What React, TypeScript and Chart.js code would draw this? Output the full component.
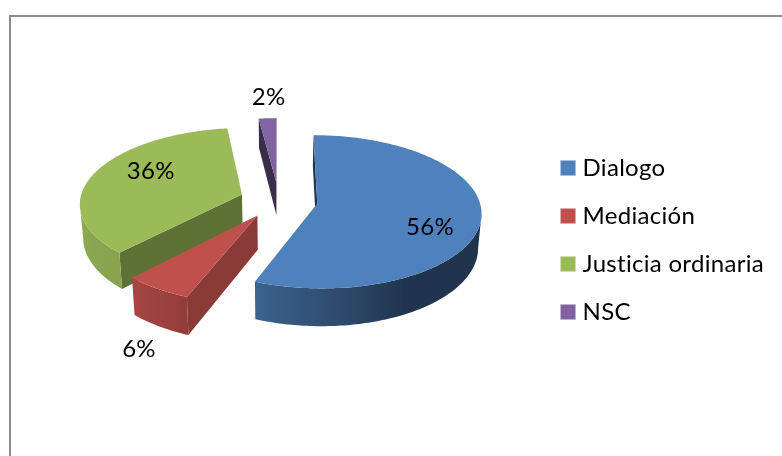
import React, { useEffect, useRef } from "react";
import { Chart, registerables } from "chart.js";

Chart.register(...registerables);

const categories = ["Dialogo", "Mediación", "Justicia ordinaria", "NSC"];
const shares = [56, 6, 36, 2];
const sliceColors = ["#4f81bd", "#c0504d", "#9bbb59", "#8064a2"];

// Look of the 3D drawing
const FONT = "Lato";
const FONT_SIZE = 24;
const EXPLODE = 39;
const RADIUS = 162;
const FOCAL = 1486;
const TILT = 0.4626;
const DEPTH = 33.5;
const BASE_SHRINK = 0.983;
const CENTER_LIFT = 40;
const cutWallShade = [0.4, 0.72, 0.61, 0.45];
const labelPlace = [
  { r: 0.71, dx: -3, dy: 14 },
  { r: 1.265, dx: 12, dy: 39 },
  { r: 0.607, dx: -1, dy: -10 },
  { r: 1.115, dx: 2, dy: -14 },
];
const shadeStops: [number, number][] = [
  [90, 0.4], [153, 0.41], [175, 0.58], [201, 0.76], [223, 0.87], [270, 0.93],
];

const rgb = (hex: string) => [1, 3, 5].map((i) => parseInt(hex.slice(i, i + 2), 16));
const tone = (hex: string, k: number) => {
  const [r, g, b] = rgb(hex);
  return `rgb(${Math.round(r * k)},${Math.round(g * k)},${Math.round(b * k)})`;
};
const wallShade = (deg: number) => {
  if (deg <= shadeStops[0][0]) return shadeStops[0][1];
  for (let i = 1; i < shadeStops.length; i++) {
    const [a, sa] = shadeStops[i - 1];
    const [b, sb] = shadeStops[i];
    if (deg <= b) return sa + ((deg - a) / (b - a)) * (sb - sa);
  }
  return shadeStops[shadeStops.length - 1][1];
};

type P = { x: number; y: number };

const pie3d = {
  id: "pie3d",
  beforeDraw(chart: any) {
    chart.ctx.textRendering = "optimizeSpeed";
    chart.ctx.letterSpacing = "0.3px";
  },
  beforeDatasetDraw(chart: any) {
    const ctx: CanvasRenderingContext2D = chart.ctx;
    const meta = chart.getDatasetMeta(0);
    const first = meta.data[0];
    const cx = first.x;
    const cy = first.y - CENTER_LIFT;
    const top = (u: number, v: number): P => {
      const s = FOCAL / (FOCAL - v);
      return { x: cx + u * s, y: cy + TILT * v * s };
    };
    const low = (u: number, v: number): P => {
      const s = FOCAL / (FOCAL - v);
      return { x: cx + u * s * BASE_SHRINK, y: cy + TILT * v * s + DEPTH * s };
    };

    const slices = meta.data.map((arc: any, index: number) => {
      const a0 = arc.startAngle + Math.PI / 2;
      const a1 = arc.endAngle + Math.PI / 2;
      const mid = (a0 + a1) / 2;
      const o = arc.options.offset;
      return { arc, index, a0, a1, mid, u0: o * Math.sin(mid), v0: -o * Math.cos(mid) };
    });
    slices.sort((p: any, q: any) => p.v0 - q.v0);

    const poly = (pts: P[]) => {
      ctx.beginPath();
      pts.forEach((p, i) => (i ? ctx.lineTo(p.x, p.y) : ctx.moveTo(p.x, p.y)));
      ctx.closePath();
    };

    for (const sl of slices) {
      const color = sliceColors[sl.index];
      const R = sl.arc.outerRadius;
      const steps = Math.max(4, Math.ceil(((sl.a1 - sl.a0) * 180) / Math.PI));
      const angles: number[] = [];
      for (let i = 0; i <= steps; i++) angles.push(sl.a0 + ((sl.a1 - sl.a0) * i) / steps);
      const uv = angles.map((t) => [sl.u0 + R * Math.sin(t), sl.v0 - R * Math.cos(t)]);
      const rimTop = uv.map(([u, v]) => top(u, v));
      const rimLow = uv.map(([u, v]) => low(u, v));
      const apexTop = top(sl.u0, sl.v0);
      const apexLow = low(sl.u0, sl.v0);
      const cutShade = tone(color, cutWallShade[sl.index]);

      // cut walls that face the viewer
      if (rimTop[0].x < apexTop.x) {
        poly([apexTop, rimTop[0], rimLow[0], apexLow]);
        ctx.fillStyle = cutShade;
        ctx.fill();
      }
      const n = rimTop.length - 1;
      if (apexTop.x < rimTop[n].x) {
        poly([rimTop[n], apexTop, apexLow, rimLow[n]]);
        ctx.fillStyle = cutShade;
        ctx.fill();
      }

      // rounded wall: runs of rim edges that travel leftwards on screen
      let run: number[] = [];
      const flush = () => {
        if (run.length > 1) {
          const pts = [...run.map((i) => rimTop[i]), ...run.slice().reverse().map((i) => rimLow[i])];
          const xs = pts.map((p) => p.x);
          const x0 = Math.min(...xs);
          const x1 = Math.max(...xs);
          const g = ctx.createLinearGradient(x0, 0, x1, 0);
          for (const i of run) {
            g.addColorStop(
              Math.min(1, Math.max(0, (rimTop[i].x - x0) / (x1 - x0))),
              tone(color, wallShade((angles[i] * 180) / Math.PI))
            );
          }
          poly(pts);
          ctx.fillStyle = g;
          ctx.fill();
        }
        run = [];
      };
      for (let i = 0; i < n; i++) {
        if (rimTop[i + 1].x < rimTop[i].x) {
          if (!run.length) run.push(i);
          run.push(i + 1);
        } else flush();
      }
      flush();

      // top face
      poly([apexTop, ...rimTop]);
      ctx.fillStyle = color;
      ctx.fill();
    }

    // percentage labels
    const total = shares.reduce((a, b) => a + b, 0);
    ctx.font = `${FONT_SIZE}px ${FONT}`;
    ctx.fillStyle = "#000";
    ctx.textAlign = "center";
    ctx.textBaseline = "middle";
    for (const sl of slices) {
      const place = labelPlace[sl.index];
      const rr = sl.arc.outerRadius * place.r;
      const p = top(sl.u0 + rr * Math.sin(sl.mid), sl.v0 - rr * Math.cos(sl.mid));
      ctx.fillText(`${Math.round((shares[sl.index] / total) * 100)}%`, p.x + place.dx, p.y + place.dy);
    }
    return false;
  },
};

export default function App() {
  const ref = useRef<HTMLCanvasElement>(null);
  useEffect(() => {
    document.body.style.margin = "0";
    const chart = new Chart(ref.current!, {
      type: "pie",
      data: {
        labels: categories,
        datasets: [
          {
            data: shares,
            backgroundColor: sliceColors,
            borderWidth: 0,
            offset: EXPLODE,
            radius: RADIUS,
          } as any,
        ],
      },
      options: {
        responsive: false,
        animation: false,
        devicePixelRatio: 1,
        layout: { padding: { left: 16, right: 13, top: 24, bottom: 0 } },
        plugins: {
          tooltip: { enabled: false },
          legend: {
            position: "right",
            align: "center",
            labels: {
              usePointStyle: true,
              pointStyle: "rect",
              boxWidth: 5,
              boxHeight: 15,
              padding: 24,
              color: "#000",
              font: { family: FONT, size: FONT_SIZE },
            },
          },
        },
      },
      plugins: [pie3d],
    } as any);
    return () => chart.destroy();
  }, []);
  return (
    <div style={{ position: "fixed", left: 0, top: 0, width: 782, height: 456, overflow: "hidden", background: "#fff" }}>
      <div
        style={{
          position: "absolute",
          left: 9,
          top: 15,
          right: -4,
          bottom: -4,
          borderLeft: "2px solid #8c8c8c",
          borderTop: "2px solid #8c8c8c",
        }}
      />
      <canvas ref={ref} width={782} height={456} style={{ position: "absolute", left: 0, top: 0 }} />
    </div>
  );
}
